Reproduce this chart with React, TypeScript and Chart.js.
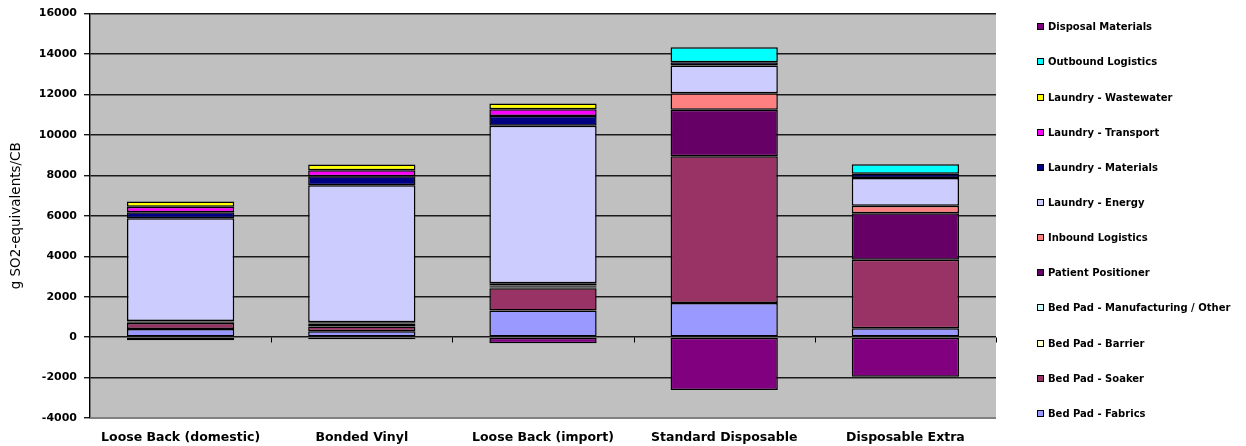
import React, { useEffect, useRef } from "react";
import { Chart, registerables } from "chart.js";

Chart.register(...registerables);

// Product alternatives compared on the horizontal axis
const categories = [
  "Loose Back (domestic)",
  "Bonded Vinyl",
  "Loose Back (import)",
  "Standard Disposable",
  "Disposable Extra",
];

// Acidification contributions per life-cycle stage (g SO2-equivalents per CB)
const bedPadFabrics = [400, 295, 1320, 1685, 440];
const bedPadSoaker = [300, 235, 1100, 7260, 3390];
const bedPadBarrier = [35, 70, 40, 0, 0];
const bedPadManufacturing = [35, 70, 50, 0, 0];
const patientPositioner = [30, 65, 40, 2295, 2290];
const inboundLogistics = [0, 0, 120, 815, 380];
const laundryEnergy = [5077, 6780, 7780, 1375, 1375];
const laundryMaterials = [295, 443, 490, 165, 210];
const laundryTransport = [280, 295, 330, 0, 0];
const laundryWastewater = [260, 290, 280, 0, 0];
const outboundLogistics = [0, 0, 0, 735, 460];
const disposalMaterials = [-150, -100, -300, -2620, -1965];

// Y axis range and tick spacing
const yMin = -4000;
const yMax = 16000;
const yStep = 2000;

const seriesNames = [
  "Bed Pad - Fabrics",
  "Bed Pad - Soaker",
  "Bed Pad - Barrier",
  "Bed Pad - Manufacturing / Other",
  "Patient Positioner",
  "Inbound Logistics",
  "Laundry - Energy",
  "Laundry - Materials",
  "Laundry - Transport",
  "Laundry - Wastewater",
  "Outbound Logistics",
  "Disposal Materials",
];

const seriesValues = [
  bedPadFabrics,
  bedPadSoaker,
  bedPadBarrier,
  bedPadManufacturing,
  patientPositioner,
  inboundLogistics,
  laundryEnergy,
  laundryMaterials,
  laundryTransport,
  laundryWastewater,
  outboundLogistics,
  disposalMaterials,
];

const seriesColors = [
  "#9999FF",
  "#993366",
  "#FFFFCC",
  "#CCFFFF",
  "#660066",
  "#FF8080",
  "#CCCCFF",
  "#000080",
  "#FF00FF",
  "#FFFF00",
  "#00FFFF",
  "#800080",
];

const FONT = "'DejaVu Sans', 'Liberation Sans', Arial, sans-serif";

// Grey plot area, its lower edge, and the small category ticks on the zero line
const plotFrame = {
  id: "plotFrame",
  beforeDraw(chart: any) {
    const { ctx, chartArea: a } = chart;
    ctx.save();
    ctx.fillStyle = "#C0C0C0";
    ctx.fillRect(a.left, a.top, a.right - a.left, a.bottom - a.top);
    ctx.restore();
  },
  afterDraw(chart: any) {
    const { ctx, chartArea: a, scales } = chart;
    const x = scales.x;
    const y = scales.y;
    ctx.save();
    ctx.strokeStyle = "#808080";
    ctx.lineWidth = 2;
    ctx.beginPath();
    ctx.moveTo(a.left, a.bottom);
    ctx.lineTo(a.right, a.bottom);
    ctx.stroke();

    const y0 = Math.round(y.getPixelForValue(0)) + 0.5;
    const marks: number[] = [];
    for (let i = 0; i < categories.length - 1; i++) {
      marks.push((x.getPixelForValue(i) + x.getPixelForValue(i + 1)) / 2);
    }
    marks.push(a.right);
    ctx.strokeStyle = "#000";
    ctx.lineWidth = 1;
    ctx.beginPath();
    for (const m of marks) {
      const px = Math.round(m) + 0.5;
      ctx.moveTo(px, y0);
      ctx.lineTo(px, y0 + 5);
    }
    ctx.stroke();
    ctx.restore();
  },
};

export default function App() {
  const canvasRef = useRef<HTMLCanvasElement>(null);

  useEffect(() => {
    const canvas = canvasRef.current;
    if (!canvas) return;

    const datasets = seriesNames.map((name, i) => ({
      label: name,
      data: seriesValues[i],
      backgroundColor: seriesColors[i],
      borderColor: "#000",
      borderWidth: 1.5,
      borderSkipped: false as const,
      inflateAmount: 0,
      barPercentage: 0.592,
      categoryPercentage: 1,
    }));

    const chart = new Chart(canvas, {
      type: "bar",
      data: { labels: categories, datasets },
      plugins: [plotFrame],
      options: {
        responsive: false,
        animation: false,
        devicePixelRatio: 1,
        layout: { padding: { left: 0, right: 250, top: 11, bottom: 0 } },
        plugins: {
          legend: { display: false },
          tooltip: { enabled: false },
        },
        scales: {
          x: {
            stacked: true,
            grid: { display: false },
            border: { display: false },
            ticks: {
              color: "#000",
              font: { family: FONT, size: 12.5, weight: "bold" },
              padding: 4,
              maxRotation: 0,
              autoSkip: false,
            },
            afterFit: (s: any) => {
              s.height = 28;
            },
          },
          y: {
            stacked: true,
            min: yMin,
            max: yMax,
            grid: {
              color: (c: any) => (c.tick && c.tick.value === yMin ? "#808080" : "#1a1a1a"),
              tickColor: "#1a1a1a",
              tickLength: 6,
              lineWidth: 1.4,
            },
            border: { color: "#000", width: 1.4 },
            ticks: {
              stepSize: yStep,
              color: "#000",
              padding: 7,
              font: { family: FONT, size: 11, weight: "bold" },
              callback: (v: any) => String(v),
            },
            title: {
              display: true,
              text: "g SO2-equivalents/CB",
              color: "#000",
              font: { family: FONT, size: 13.5, weight: "normal" },
              padding: { top: 8, bottom: 0 },
            },
            afterFit: (s: any) => {
              s.width = 90;
            },
          },
        },
      },
    });

    return () => chart.destroy();
  }, []);

  const legendOrder = seriesNames.map((_, i) => i).reverse();

  return (
    <div
      style={{
        position: "fixed",
        left: 0,
        top: 0,
        width: 1246,
        height: 446,
        background: "#fff",
        overflow: "hidden",
      }}
    >
      <canvas
        ref={canvasRef}
        width={1246}
        height={446}
        style={{ position: "absolute", left: 0, top: 0, width: 1246, height: 446 }}
      />
      {legendOrder.map((idx, row) => (
        <div
          key={seriesNames[idx]}
          style={{
            position: "absolute",
            left: 1037,
            top: 26.7 + row * 35.15 - 7,
            height: 14,
            display: "flex",
            alignItems: "center",
            whiteSpace: "nowrap",
            fontFamily: FONT,
            fontWeight: "bold",
            fontSize: 10,
            color: "#000",
          }}
        >
          <span
            style={{
              display: "inline-block",
              width: 5,
              height: 5,
              border: "1px solid #000",
              background: seriesColors[idx],
              marginRight: 4,
            }}
          />
          <span>{seriesNames[idx]}</span>
        </div>
      ))}
    </div>
  );
}
